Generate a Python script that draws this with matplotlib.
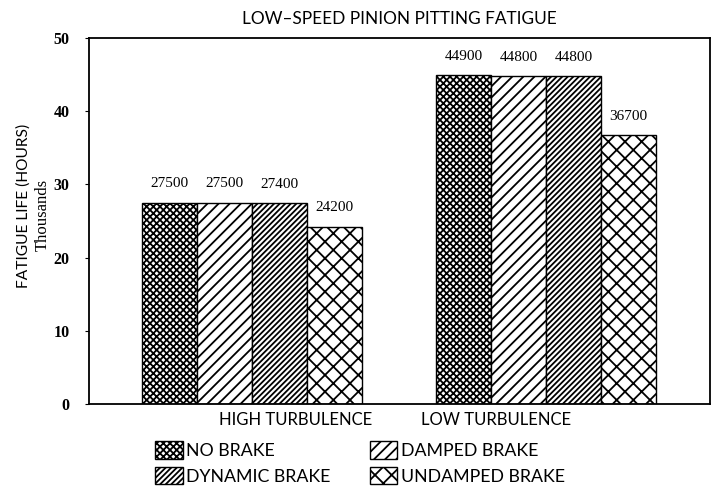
import matplotlib
matplotlib.use("Agg")
import matplotlib.pyplot as plt
import numpy as np

# data (fatigue life, thousands of hours)
groups = ["HIGH TURBULENCE", "LOW TURBULENCE"]
series = ["NO BRAKE", "DAMPED BRAKE", "DYNAMIC BRAKE", "UNDAMPED BRAKE"]
no_brake = [27.5, 44.9]
damped_brake = [27.5, 44.8]
dynamic_brake = [27.4, 44.8]
undamped_brake = [24.2, 36.7]
value_labels = [
    ["27500", "44900"],
    ["27500", "44800"],
    ["27400", "44800"],
    ["24200", "36700"],
]

SERIF = ["Liberation Serif", "DejaVu Serif"]
SANS = ["Lato", "DejaVu Sans"]
plt.rcParams["font.family"] = SERIF
plt.rcParams["hatch.linewidth"] = 1.3
plt.rcParams["hatch.color"] = "black"

fig = plt.figure(figsize=(7.18, 4.92), dpi=100)
ax = fig.add_axes([89 / 718, 1 - 404 / 492, 621 / 718, 366 / 492])

centers = np.array([2.96, 8.31])
width = 1.0
hatches = ["xxxxx", "///", "//////", "xx"]
values = [no_brake, damped_brake, dynamic_brake, undamped_brake]
handles = []
for i, (name, vals, h) in enumerate(zip(series, values, hatches)):
    xs = centers + (i - 1.5) * width
    bars = ax.bar(xs, vals, width, facecolor="white", edgecolor="black",
                  hatch=h, linewidth=1.0, label=name)
    handles.append(bars)
    for x, v, lab in zip(xs, vals, value_labels[i]):
        ax.text(x, v + 1.7, lab, ha="center", va="bottom", fontsize=11)

ax.set_xlim(0, 621 / 55)
ax.set_ylim(0, 50)
ax.set_yticks([0, 10, 20, 30, 40, 50])
ax.tick_params(axis="y", labelsize=11.5, length=3, direction="out", pad=11)
for t in ax.get_yticklabels():
    t.set_fontweight("bold")
ax.set_xticks(centers + np.array([0.8, -0.9]))
ax.set_xticklabels(groups, fontsize=12, family=SANS)
ax.tick_params(axis="x", length=0, pad=6)
for s in ax.spines.values():
    s.set_linewidth(1.3)

ax.set_title("LOW\u2013SPEED PINION PITTING FATIGUE", fontsize=12.4, pad=10,
             family=SANS)
fig.text(24 / 718, 1 - 206 / 492, "FATIGUE LIFE (HOURS)", rotation=90,
         ha="center", va="center", fontsize=11.2, family=SANS)
fig.text(43 / 718, 1 - 215 / 492, "Thousands", rotation=90,
         ha="center", va="center", fontsize=12)

order = [0, 2, 1, 3]
fig.legend([handles[k] for k in order], [series[k] for k in order],
           loc="upper left", bbox_to_anchor=(155 / 718, 1 - 441 / 492),
           ncol=2, frameon=False, prop={"family": SANS, "size": 12.8},
           handlelength=1.55, handleheight=1.15, handletextpad=0.2,
           columnspacing=2.2, labelspacing=0.45, borderaxespad=0,
           borderpad=0)

fig.savefig("out.png", dpi=100)
